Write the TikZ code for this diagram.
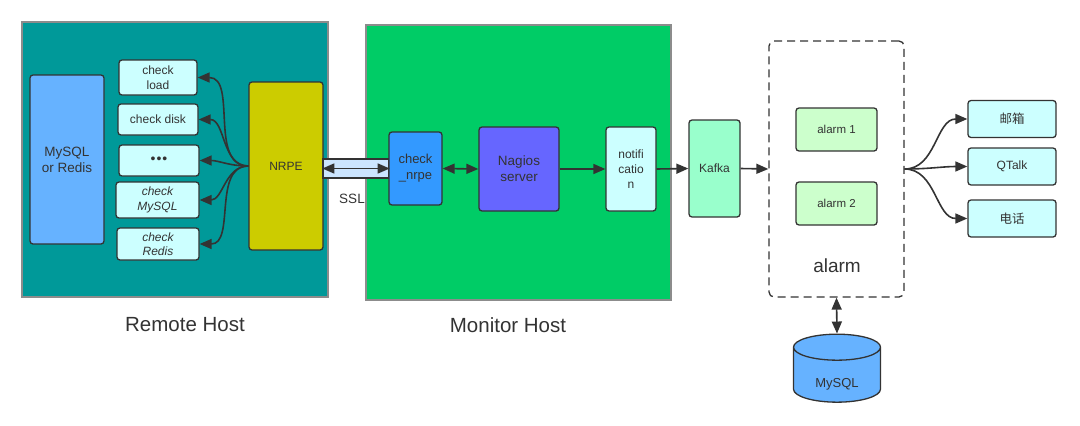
\documentclass[tikz,border=0pt]{standalone}
\usepackage{fontspec}
\setmainfont{Liberation Sans}
\newfontfamily\cjkfont{Noto Sans CJK SC}
\usetikzlibrary{positioning,arrows.meta,shapes.geometric}
\definecolor{remotebg}{HTML}{009999}
\definecolor{monitorbg}{HTML}{00CC66}
\definecolor{dbblue}{HTML}{66B2FF}
\definecolor{checkfill}{HTML}{CCFFFF}
\definecolor{nrpefill}{HTML}{CCCC00}
\definecolor{tubefill}{HTML}{CCE5FF}
\definecolor{nrpechk}{HTML}{3399FF}
\definecolor{nagiosfill}{HTML}{6666FF}
\definecolor{kafkafill}{HTML}{99FFCC}
\definecolor{alarmfill}{HTML}{CCFFCC}
\definecolor{ink}{HTML}{333333}

\begin{document}
\begin{tikzpicture}[x=1pt, y=-1pt,
  font=\fontsize{12}{15}\selectfont, text=ink,
  >={Triangle[length=12pt,width=10pt]},
  box/.style={draw=ink, line width=1.3pt, rounded corners=3pt, align=center, inner sep=2pt},
  host/.style={draw=black!45, line width=1.2pt},
  chk/.style={box, fill=checkfill},
  dest/.style={box, fill=checkfill, minimum width=88, minimum height=37},
  alm/.style={box, fill=alarmfill, minimum width=81, minimum height=43, font=\fontsize{11.5}{14}\selectfont},
  arr/.style={->, draw=ink, line width=1.6pt},
  dbl/.style={<->, draw=ink, line width=1.6pt},
  title/.style={font=\fontsize{20.5}{24}\selectfont}]
  \useasboundingbox (0,0) rectangle (1080,426);
  % hosts
  \node[host, fill=remotebg, minimum width=306, minimum height=275] (remote) at (175,159.5) {};
  \node[host, fill=monitorbg, minimum width=305, minimum height=275] (monitor) at (518.5,162.5) {};
  \node[title] (remote_lbl) at (185,325) {Remote Host};
  \node[title] (monitor_lbl) at (508,325) {Monitor Host};
  % remote host
  \node[box, fill=dbblue, minimum width=74, minimum height=169, font=\fontsize{13.5}{16}\selectfont] (store) at (67,159.5) {MySQL\\or Redis};
  \node[chk, minimum width=78, minimum height=35] (load) at (158,77.5) {check\\load};
  \node[chk, minimum width=80, minimum height=31] (disk) at (158,119.5) {check disk};
  \node[chk, minimum width=80, minimum height=31] (more) at (159,160.5) {\raisebox{-6pt}{\fontsize{14}{14}\selectfont •\kern1pt•\kern1pt•}};
  \node[chk, minimum width=83, minimum height=36, font=\fontsize{12}{15}\selectfont\itshape] (mysql) at (157.5,200) {check\\MySQL};
  \node[chk, minimum width=82, minimum height=32, font=\fontsize{12}{14}\selectfont\itshape] (redis) at (158,244) {check\\Redis};
  \node[box, fill=nrpefill, minimum width=74, minimum height=168] (nrpe) at (286,166) {NRPE};
  % ssl tunnel
  \node[draw=ink, line width=1.3pt, fill=tubefill, minimum width=66, minimum height=19, inner sep=0pt] (tube) at (356,168.5) {};
  \node[font=\fontsize{13.5}{16}\selectfont] (ssl) at (352,199) {SSL};
  % monitor host
  \node[box, fill=nrpechk, minimum width=53, minimum height=73, font=\fontsize{13}{16}\selectfont] (nrpe_chk) at (415.5,168.5) {check\\\_nrpe};
  \node[box, fill=nagiosfill, minimum width=80, minimum height=84, font=\fontsize{13.5}{16}\selectfont] (nagios) at (519,169) {Nagios\\server};
  \node[box, fill=checkfill, minimum width=50, minimum height=84, font=\fontsize{12}{15}\selectfont] (notif) at (631,169) {notifi\\catio\\n};
  % alarm side
  \node[box, fill=kafkafill, minimum width=51, minimum height=97] (kafka) at (714.5,168.5) {Kafka};
  \node[draw=ink, line width=1.3pt, dash pattern=on 8pt off 5pt, rounded corners=5pt, minimum width=135, minimum height=256] (alarm) at (836.5,169) {};
  \node[alm] (alarm_a) at (836.5,129.5) {alarm 1};
  \node[alm] (alarm_b) at (836.5,203.5) {alarm 2};
  \node[font=\fontsize{19}{22}\selectfont] (alarm_lbl) at (837,266) {alarm};
  \node[dest, font=\cjkfont\fontsize{12.5}{15}\selectfont] (mail) at (1012,119) {邮箱};
  \node[dest] (qtalk) at (1012,166.5) {QTalk};
  \node[dest, font=\cjkfont\fontsize{12.5}{15}\selectfont] (phone) at (1012,218.5) {电话};
  \node[cylinder, shape border rotate=90, aspect=0.6, draw=ink, line width=1.3pt, fill=dbblue, minimum width=87, minimum height=68, inner sep=0pt, font=\fontsize{13}{16}\selectfont] (db) at (837,375) {\raisebox{-12pt}[0pt][0pt]{MySQL}};
  % connectors
  \foreach \t in {load,disk,more,mysql,redis}
    \draw[arr] (nrpe.west) to[out=180, in=0] (\t.east);
  \draw[dbl] (tube.west) -- (tube.east);
  \draw[dbl] (nrpe_chk.east) -- (nagios.west);
  \draw[arr] (nagios.east) -- (notif.west);
  \draw[arr] (notif.east) -- (kafka.west);
  \draw[arr] (kafka.east) -- (alarm.west);
  \foreach \t in {mail,qtalk,phone}
    \draw[arr] (alarm.east) to[out=0, in=180] (\t.west);
  \draw[dbl] (alarm.south) -- (db.top);
\end{tikzpicture}
\end{document}
